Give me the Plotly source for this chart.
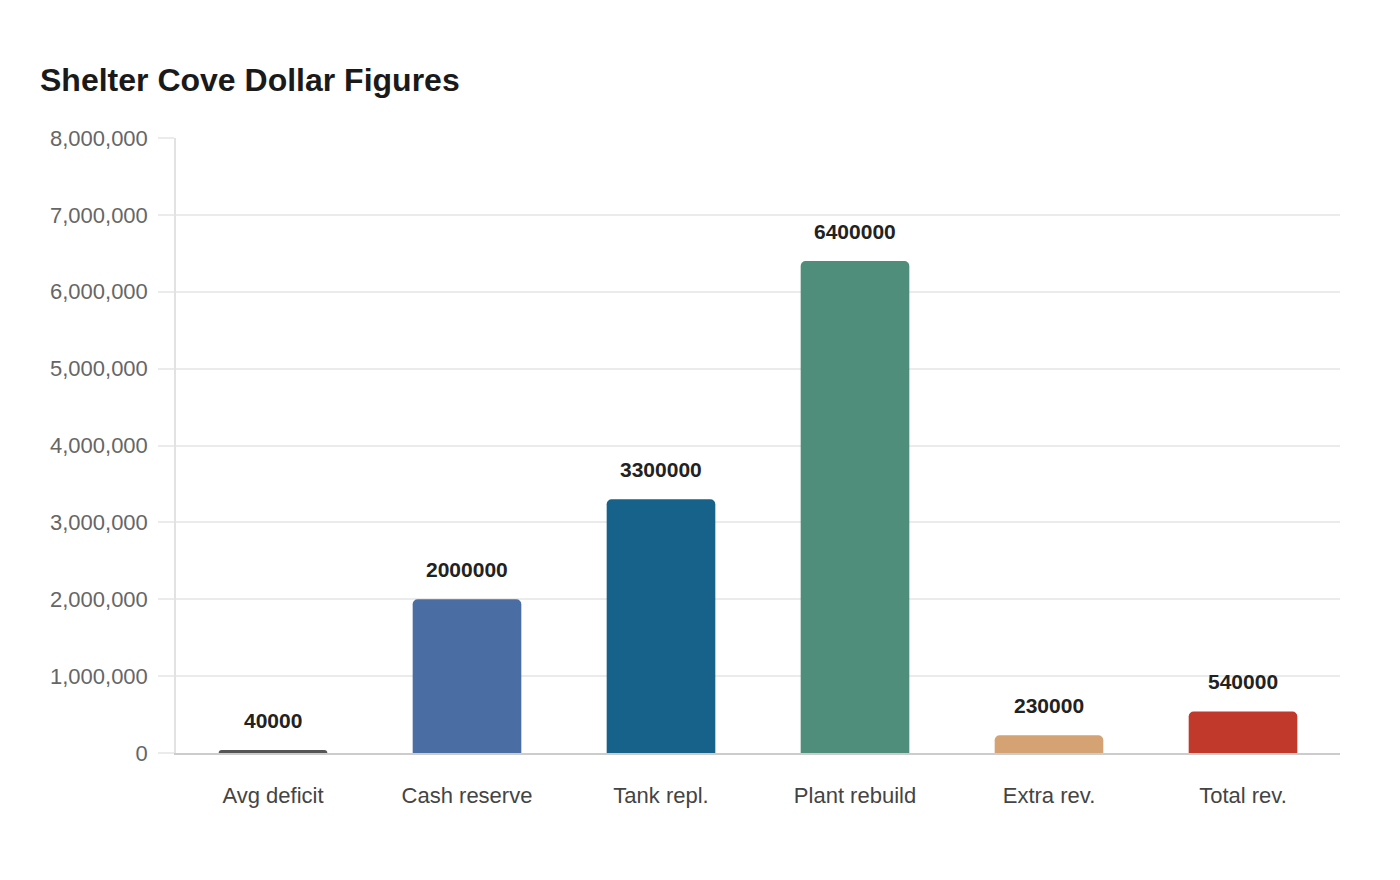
import plotly.graph_objects as go

categories = ["Avg deficit", "Cash reserve", "Tank repl.", "Plant rebuild", "Extra rev.", "Total rev."]
amounts = [40000, 2000000, 3300000, 6400000, 230000, 540000]
bar_colors = ["#555555", "#4a6ea3", "#17628a", "#4e8e7b", "#d5a373", "#c0392b"]

fig = go.Figure()

fig.add_trace(go.Bar(
    x=categories,
    y=amounts,
    marker=dict(color=bar_colors, cornerradius=5, line=dict(width=0)),
    hoverinfo="x+y",
))

# value labels sit a bit above each bar
for cat, val in zip(categories, amounts):
    fig.add_annotation(
        x=cat, y=val, text="<b>" + str(val) + "</b>",
        showarrow=False, yanchor="bottom", yshift=16,
        font=dict(family="Liberation Sans, Arial, sans-serif", size=21, color="#222222"),
    )

fig.update_layout(
    width=1384, height=864,
    paper_bgcolor="white", plot_bgcolor="white",
    margin=dict(l=168, r=52, t=130, b=119),
    bargap=0.44,
    showlegend=False,
    title=dict(
        text="<b>Shelter Cove Dollar Figures</b>",
        x=32 / 1384, xanchor="left", y=1 - 72 / 864, yanchor="middle",
        font=dict(family="Liberation Sans, Arial, sans-serif", size=32, color="#1a1a1a"),
    ),
    font=dict(family="Liberation Sans, Arial, sans-serif"),
)

fig.update_yaxes(
    range=[0, 8000000], dtick=1000000, tickformat=",",
    showgrid=True, gridcolor="#ebebeb", gridwidth=1.5,
    showline=True, linecolor="#e2e2e2", linewidth=1.5,
    ticks="outside", ticklen=16, tickcolor="#ebebeb", tickwidth=1.5,
    ticklabelstandoff=6,
    tickfont=dict(size=22, color="#666666"),
    zeroline=False,
)
fig.update_xaxes(
    showline=True, linecolor="#cccccc", linewidth=1.5,
    ticks="", tickfont=dict(size=22, color="#444444"),
    ticklabelstandoff=22,
)

fig.write_html("out.html")
